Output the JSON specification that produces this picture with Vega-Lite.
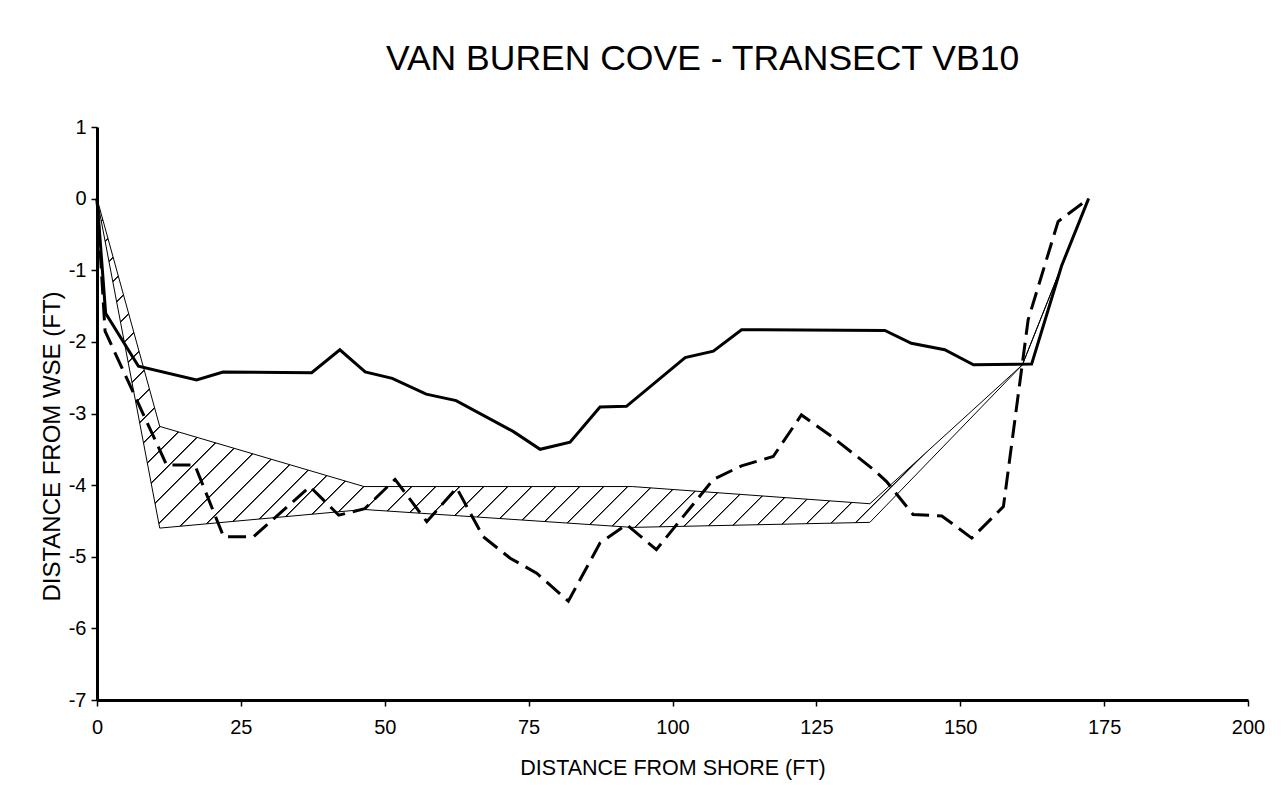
{
  "$schema": "https://vega.github.io/schema/vega-lite/v6.json",
  "width": 1151,
  "height": 573,
  "autosize": {"type": "none"},
  "padding": {"left": 97, "top": 127, "right": 33, "bottom": 85},
  "background": "white",
  "title": {
    "text": "VAN BUREN COVE - TRANSECT VB10",
    "font": "Liberation Sans",
    "fontSize": 35.5,
    "fontWeight": "normal",
    "color": "black",
    "anchor": "middle",
    "frame": "group",
    "dx": 30,
    "baseline": "alphabetic",
    "offset": 12
  },
  "config": {
    "view": {"stroke": null},
    "axis": {
      "grid": false,
      "domainColor": "black",
      "domainWidth": 3,
      "tickColor": "black",
      "tickWidth": 1.5,
      "tickSize": 6,
      "labelFont": "Liberation Sans",
      "labelFontSize": 20,
      "labelColor": "black",
      "titleFont": "Liberation Sans",
      "titleFontSize": 21.5,
      "titleFontWeight": "normal",
      "titleColor": "black"
    }
  },
  "datasets": {
    "bed": [
      {"x": 0, "y": 0}, {"x": 1.5, "y": -1.6}, {"x": 7.2, "y": -2.34}, {"x": 17.3, "y": -2.53},
      {"x": 21.9, "y": -2.42}, {"x": 37.3, "y": -2.43}, {"x": 42.2, "y": -2.11}, {"x": 46.6, "y": -2.42},
      {"x": 51.3, "y": -2.51}, {"x": 57.2, "y": -2.73}, {"x": 62.4, "y": -2.82}, {"x": 72.3, "y": -3.25},
      {"x": 77, "y": -3.5}, {"x": 82.2, "y": -3.4}, {"x": 87.4, "y": -2.91}, {"x": 92, "y": -2.9},
      {"x": 102.2, "y": -2.22}, {"x": 107.1, "y": -2.13}, {"x": 112, "y": -1.83}, {"x": 136.9, "y": -1.84},
      {"x": 141.5, "y": -2.02}, {"x": 147.3, "y": -2.11}, {"x": 152.3, "y": -2.32}, {"x": 162.4, "y": -2.31},
      {"x": 167.6, "y": -0.94}, {"x": 172.3, "y": 0}
    ],
    "refusal": [
      {"x": 0, "y": 0}, {"x": 1.4, "y": -1.85}, {"x": 12.1, "y": -3.72}, {"x": 17, "y": -3.72},
      {"x": 22, "y": -4.72}, {"x": 27.2, "y": -4.72}, {"x": 37, "y": -4.02}, {"x": 42, "y": -4.42},
      {"x": 46.5, "y": -4.33}, {"x": 51.8, "y": -3.92}, {"x": 57.3, "y": -4.51}, {"x": 62.5, "y": -4.04},
      {"x": 67.1, "y": -4.72}, {"x": 71.8, "y": -5.02}, {"x": 76.4, "y": -5.23}, {"x": 81.9, "y": -5.62},
      {"x": 87.4, "y": -4.81}, {"x": 92, "y": -4.55}, {"x": 97.2, "y": -4.9}, {"x": 107.1, "y": -3.92},
      {"x": 112, "y": -3.73}, {"x": 117.5, "y": -3.6}, {"x": 122.4, "y": -3.02}, {"x": 127.3, "y": -3.3},
      {"x": 134.9, "y": -3.78}, {"x": 137.2, "y": -3.95}, {"x": 141.8, "y": -4.41}, {"x": 146.8, "y": -4.43},
      {"x": 152, "y": -4.74}, {"x": 157.5, "y": -4.3}, {"x": 161.8, "y": -1.69}, {"x": 167, "y": -0.32},
      {"x": 172.3, "y": 0}
    ],
    "band": [
      {"x": 0, "upper": 0, "lower": 0},
      {"x": 10.9, "upper": -3.18, "lower": -4.6},
      {"x": 46.4, "upper": -4.02, "lower": -4.34},
      {"x": 93, "upper": -4.02, "lower": -4.59},
      {"x": 134.3, "upper": -4.26, "lower": -4.52},
      {"x": 160.8, "upper": -2.32, "lower": -2.32},
      {"x": 172.3, "upper": 0, "lower": 0}
    ]
  },
  "encoding": {
    "x": {
      "field": "x", "type": "quantitative",
      "scale": {"domain": [0, 200], "nice": false, "zero": false},
      "axis": {"values": [0, 25, 50, 75, 100, 125, 150, 175, 200], "title": "DISTANCE FROM SHORE (FT)", "labelPadding": 11, "titlePadding": 20, "labelFlush": false}
    }
  },
  "layer": [
    {
      "data": {"name": "band"},
      "mark": {
        "type": "area",
        "stroke": "black",
        "strokeWidth": 1,
        "fill": {
          "gradient": "linear",
          "x1": 0, "y1": 0, "x2": 1.1997, "y2": 0.3987,
          "stops": [
            {"offset": 0, "color": "white"},
            {"offset": 0.00129, "color": "white"}, {"offset": 0.00189, "color": "black"}, {"offset": 0.00249, "color": "black"}, {"offset": 0.00309, "color": "white"},
            {"offset": 0.01945, "color": "white"}, {"offset": 0.02005, "color": "black"}, {"offset": 0.02065, "color": "black"}, {"offset": 0.02125, "color": "white"},
            {"offset": 0.03761, "color": "white"}, {"offset": 0.03821, "color": "black"}, {"offset": 0.03881, "color": "black"}, {"offset": 0.03941, "color": "white"},
            {"offset": 0.05578, "color": "white"}, {"offset": 0.05638, "color": "black"}, {"offset": 0.05698, "color": "black"}, {"offset": 0.05758, "color": "white"},
            {"offset": 0.07394, "color": "white"}, {"offset": 0.07454, "color": "black"}, {"offset": 0.07514, "color": "black"}, {"offset": 0.07574, "color": "white"},
            {"offset": 0.0921, "color": "white"}, {"offset": 0.0927, "color": "black"}, {"offset": 0.0933, "color": "black"}, {"offset": 0.0939, "color": "white"},
            {"offset": 0.11027, "color": "white"}, {"offset": 0.11087, "color": "black"}, {"offset": 0.11147, "color": "black"}, {"offset": 0.11207, "color": "white"},
            {"offset": 0.12843, "color": "white"}, {"offset": 0.12903, "color": "black"}, {"offset": 0.12963, "color": "black"}, {"offset": 0.13023, "color": "white"},
            {"offset": 0.14659, "color": "white"}, {"offset": 0.14719, "color": "black"}, {"offset": 0.14779, "color": "black"}, {"offset": 0.14839, "color": "white"},
            {"offset": 0.16476, "color": "white"}, {"offset": 0.16536, "color": "black"}, {"offset": 0.16596, "color": "black"}, {"offset": 0.16656, "color": "white"},
            {"offset": 0.18292, "color": "white"}, {"offset": 0.18352, "color": "black"}, {"offset": 0.18412, "color": "black"}, {"offset": 0.18472, "color": "white"},
            {"offset": 0.20108, "color": "white"}, {"offset": 0.20168, "color": "black"}, {"offset": 0.20228, "color": "black"}, {"offset": 0.20288, "color": "white"},
            {"offset": 0.21924, "color": "white"}, {"offset": 0.21984, "color": "black"}, {"offset": 0.22044, "color": "black"}, {"offset": 0.22104, "color": "white"},
            {"offset": 0.23741, "color": "white"}, {"offset": 0.23801, "color": "black"}, {"offset": 0.23861, "color": "black"}, {"offset": 0.23921, "color": "white"},
            {"offset": 0.25557, "color": "white"}, {"offset": 0.25617, "color": "black"}, {"offset": 0.25677, "color": "black"}, {"offset": 0.25737, "color": "white"},
            {"offset": 0.27373, "color": "white"}, {"offset": 0.27433, "color": "black"}, {"offset": 0.27493, "color": "black"}, {"offset": 0.27553, "color": "white"},
            {"offset": 0.2919, "color": "white"}, {"offset": 0.2925, "color": "black"}, {"offset": 0.2931, "color": "black"}, {"offset": 0.2937, "color": "white"},
            {"offset": 0.31006, "color": "white"}, {"offset": 0.31066, "color": "black"}, {"offset": 0.31126, "color": "black"}, {"offset": 0.31186, "color": "white"},
            {"offset": 0.32822, "color": "white"}, {"offset": 0.32882, "color": "black"}, {"offset": 0.32942, "color": "black"}, {"offset": 0.33002, "color": "white"},
            {"offset": 0.34639, "color": "white"}, {"offset": 0.34699, "color": "black"}, {"offset": 0.34759, "color": "black"}, {"offset": 0.34819, "color": "white"},
            {"offset": 0.36455, "color": "white"}, {"offset": 0.36515, "color": "black"}, {"offset": 0.36575, "color": "black"}, {"offset": 0.36635, "color": "white"},
            {"offset": 0.38271, "color": "white"}, {"offset": 0.38331, "color": "black"}, {"offset": 0.38391, "color": "black"}, {"offset": 0.38451, "color": "white"},
            {"offset": 0.40088, "color": "white"}, {"offset": 0.40148, "color": "black"}, {"offset": 0.40208, "color": "black"}, {"offset": 0.40268, "color": "white"},
            {"offset": 0.41904, "color": "white"}, {"offset": 0.41964, "color": "black"}, {"offset": 0.42024, "color": "black"}, {"offset": 0.42084, "color": "white"},
            {"offset": 0.4372, "color": "white"}, {"offset": 0.4378, "color": "black"}, {"offset": 0.4384, "color": "black"}, {"offset": 0.439, "color": "white"},
            {"offset": 0.45537, "color": "white"}, {"offset": 0.45597, "color": "black"}, {"offset": 0.45657, "color": "black"}, {"offset": 0.45717, "color": "white"},
            {"offset": 0.47353, "color": "white"}, {"offset": 0.47413, "color": "black"}, {"offset": 0.47473, "color": "black"}, {"offset": 0.47533, "color": "white"},
            {"offset": 0.49169, "color": "white"}, {"offset": 0.49229, "color": "black"}, {"offset": 0.49289, "color": "black"}, {"offset": 0.49349, "color": "white"},
            {"offset": 0.50986, "color": "white"}, {"offset": 0.51046, "color": "black"}, {"offset": 0.51106, "color": "black"}, {"offset": 0.51166, "color": "white"},
            {"offset": 0.52802, "color": "white"}, {"offset": 0.52862, "color": "black"}, {"offset": 0.52922, "color": "black"}, {"offset": 0.52982, "color": "white"},
            {"offset": 0.54618, "color": "white"}, {"offset": 0.54678, "color": "black"}, {"offset": 0.54738, "color": "black"}, {"offset": 0.54798, "color": "white"},
            {"offset": 0.56435, "color": "white"}, {"offset": 0.56495, "color": "black"}, {"offset": 0.56555, "color": "black"}, {"offset": 0.56615, "color": "white"},
            {"offset": 0.58251, "color": "white"}, {"offset": 0.58311, "color": "black"}, {"offset": 0.58371, "color": "black"}, {"offset": 0.58431, "color": "white"},
            {"offset": 0.60067, "color": "white"}, {"offset": 0.60127, "color": "black"}, {"offset": 0.60187, "color": "black"}, {"offset": 0.60247, "color": "white"},
            {"offset": 0.61883, "color": "white"}, {"offset": 0.61943, "color": "black"}, {"offset": 0.62003, "color": "black"}, {"offset": 0.62063, "color": "white"},
            {"offset": 0.637, "color": "white"}, {"offset": 0.6376, "color": "black"}, {"offset": 0.6382, "color": "black"}, {"offset": 0.6388, "color": "white"},
            {"offset": 0.65516, "color": "white"}, {"offset": 0.65576, "color": "black"}, {"offset": 0.65636, "color": "black"}, {"offset": 0.65696, "color": "white"},
            {"offset": 0.67332, "color": "white"}, {"offset": 0.67392, "color": "black"}, {"offset": 0.67452, "color": "black"}, {"offset": 0.67512, "color": "white"},
            {"offset": 0.69149, "color": "white"}, {"offset": 0.69209, "color": "black"}, {"offset": 0.69269, "color": "black"}, {"offset": 0.69329, "color": "white"},
            {"offset": 0.70965, "color": "white"}, {"offset": 0.71025, "color": "black"}, {"offset": 0.71085, "color": "black"}, {"offset": 0.71145, "color": "white"},
            {"offset": 0.72781, "color": "white"}, {"offset": 0.72841, "color": "black"}, {"offset": 0.72901, "color": "black"}, {"offset": 0.72961, "color": "white"},
            {"offset": 0.74598, "color": "white"}, {"offset": 0.74658, "color": "black"}, {"offset": 0.74718, "color": "black"}, {"offset": 0.74778, "color": "white"},
            {"offset": 0.76414, "color": "white"}, {"offset": 0.76474, "color": "black"}, {"offset": 0.76534, "color": "black"}, {"offset": 0.76594, "color": "white"},
            {"offset": 0.7823, "color": "white"}, {"offset": 0.7829, "color": "black"}, {"offset": 0.7835, "color": "black"}, {"offset": 0.7841, "color": "white"},
            {"offset": 0.80047, "color": "white"}, {"offset": 0.80107, "color": "black"}, {"offset": 0.80167, "color": "black"}, {"offset": 0.80227, "color": "white"},
            {"offset": 0.81863, "color": "white"}, {"offset": 0.81923, "color": "black"}, {"offset": 0.81983, "color": "black"}, {"offset": 0.82043, "color": "white"},
            {"offset": 0.83679, "color": "white"}, {"offset": 0.83739, "color": "black"}, {"offset": 0.83799, "color": "black"}, {"offset": 0.83859, "color": "white"},
            {"offset": 0.85496, "color": "white"}, {"offset": 0.85556, "color": "black"}, {"offset": 0.85616, "color": "black"}, {"offset": 0.85676, "color": "white"},
            {"offset": 0.87312, "color": "white"}, {"offset": 0.87372, "color": "black"}, {"offset": 0.87432, "color": "black"}, {"offset": 0.87492, "color": "white"},
            {"offset": 0.89128, "color": "white"}, {"offset": 0.89188, "color": "black"}, {"offset": 0.89248, "color": "black"}, {"offset": 0.89308, "color": "white"},
            {"offset": 0.90945, "color": "white"}, {"offset": 0.91005, "color": "black"}, {"offset": 0.91065, "color": "black"}, {"offset": 0.91125, "color": "white"},
            {"offset": 0.92761, "color": "white"}, {"offset": 0.92821, "color": "black"}, {"offset": 0.92881, "color": "black"}, {"offset": 0.92941, "color": "white"},
            {"offset": 0.94577, "color": "white"}, {"offset": 0.94637, "color": "black"}, {"offset": 0.94697, "color": "black"}, {"offset": 0.94757, "color": "white"},
            {"offset": 0.96394, "color": "white"}, {"offset": 0.96454, "color": "black"}, {"offset": 0.96514, "color": "black"}, {"offset": 0.96574, "color": "white"},
            {"offset": 0.9821, "color": "white"}, {"offset": 0.9827, "color": "black"}, {"offset": 0.9833, "color": "black"}, {"offset": 0.9839, "color": "white"},
            {"offset": 1, "color": "white"}
          ]
        }
      },
      "encoding": {
        "y": {
          "field": "upper", "type": "quantitative",
          "scale": {"domain": [-7, 1], "nice": false, "zero": false},
          "axis": {"values": [-7, -6, -5, -4, -3, -2, -1, 0, 1], "title": "DISTANCE FROM WSE (FT)", "titleFontSize": 24, "labelExpr": "'' + datum.value", "labelPadding": 5, "titlePadding": 4, "titleY": 319, "labelFlush": false}
        },
        "y2": {"field": "lower"}
      }
    },
    {
      "data": {"name": "bed"},
      "mark": {"type": "line", "color": "black", "strokeWidth": 3, "strokeJoin": "miter"},
      "encoding": {"y": {"field": "y", "type": "quantitative"}}
    },
    {
      "data": {"name": "refusal"},
      "mark": {"type": "line", "color": "black", "strokeWidth": 3, "strokeDash": [18, 8], "strokeJoin": "miter"},
      "encoding": {"y": {"field": "y", "type": "quantitative"}}
    }
  ]
}
